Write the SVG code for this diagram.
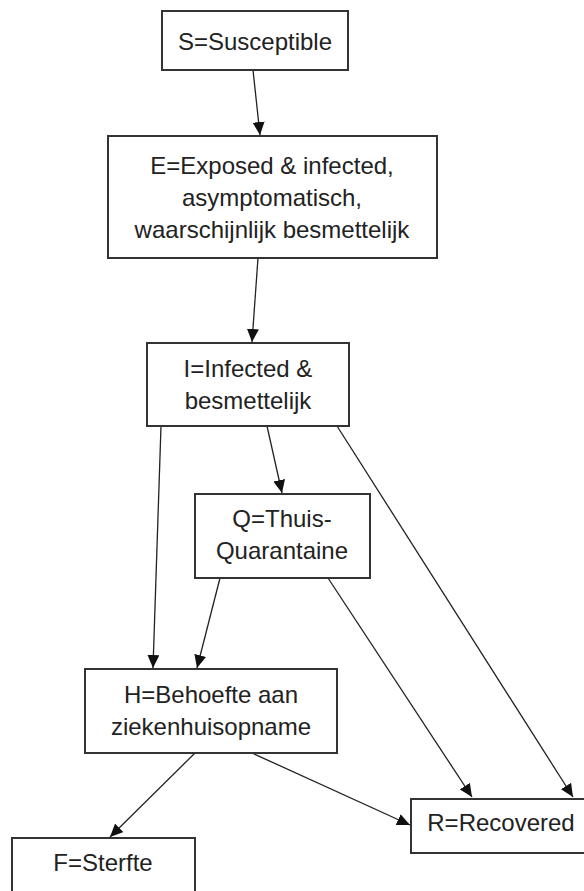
<svg xmlns="http://www.w3.org/2000/svg" width="584" height="891" viewBox="0 0 584 891">
<style>
.box{fill:#fff;stroke:#333;stroke-width:2}
.t{font-family:"Liberation Sans",Arial,sans-serif;font-size:24px;fill:#222;text-anchor:middle}
.c{stroke:#222;stroke-width:1.3;fill:none;marker-end:url(#ah)}
</style>
<defs>
<marker id="ah" markerUnits="userSpaceOnUse" markerWidth="14" markerHeight="12" refX="13" refY="6" orient="auto">
<path d="M0,0 L13,6 L0,12 z" fill="#111"/>
</marker>
</defs>
<rect width="584" height="891" fill="#fff"/>
<g id="connectors">
<line class="c" x1="253" y1="70" x2="260" y2="135"/>
<line class="c" x1="258" y1="258" x2="252" y2="342"/>
<line class="c" x1="161" y1="426" x2="153" y2="668"/>
<line class="c" x1="267" y1="426" x2="282" y2="493"/>
<line class="c" x1="337" y1="426" x2="573" y2="797"/>
<line class="c" x1="220" y1="578" x2="197" y2="668"/>
<line class="c" x1="328" y1="578" x2="472" y2="797"/>
<line class="c" x1="195" y1="753" x2="110" y2="837"/>
<line class="c" x1="252" y1="753" x2="410" y2="825"/>
</g>
<g id="S">
<rect class="box" x="162" y="11" width="186" height="59"/>
<text class="t" x="255" y="50">S=Susceptible</text>
</g>
<g id="E">
<rect class="box" x="108" y="136" width="329" height="122"/>
<text class="t" x="272" y="174">E=Exposed &amp; infected,</text>
<text class="t" x="272" y="206">asymptomatisch,</text>
<text class="t" x="272" y="238">waarschijnlijk besmettelijk</text>
</g>
<g id="I">
<rect class="box" x="147" y="343" width="202" height="83"/>
<text class="t" x="248" y="377">I=Infected &amp;</text>
<text class="t" x="248" y="409">besmettelijk</text>
</g>
<g id="Q">
<rect class="box" x="195" y="494" width="175" height="84"/>
<text class="t" x="282" y="527">Q=Thuis-</text>
<text class="t" x="282" y="559">Quarantaine</text>
</g>
<g id="H">
<rect class="box" x="85" y="669" width="252" height="84"/>
<text class="t" x="211" y="703">H=Behoefte aan</text>
<text class="t" x="211" y="735">ziekenhuisopname</text>
</g>
<g id="F">
<rect class="box" x="12" y="838" width="183" height="70"/>
<text class="t" x="103" y="871">F=Sterfte</text>
</g>
<g id="R">
<rect class="box" x="411" y="799" width="180" height="54"/>
<text class="t" x="501" y="831">R=Recovered</text>
</g>
</svg>
